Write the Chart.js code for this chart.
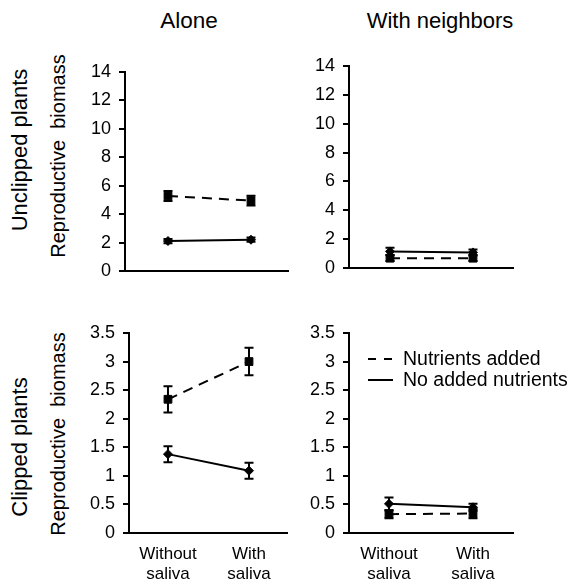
<!DOCTYPE html>
<html><head><meta charset="utf-8">
<script src="https://cdn.jsdelivr.net/npm/chart.js@4.4.1/dist/chart.umd.min.js"></script>
<style>
body{margin:0;background:#fff;width:573px;height:585px;position:relative;overflow:hidden;font-family:"Liberation Sans",Arial,sans-serif;}
.lbl{position:absolute;color:#000;white-space:pre;line-height:normal;}
canvas{position:absolute;}
</style></head><body>
<div class="lbl" style="font-size:22.5px;left:189px;top:21px;transform:translate(-50%,-50%)">Alone</div>
<div class="lbl" style="font-size:22px;left:440px;top:21px;transform:translate(-50%,-50%)">With neighbors</div>
<div class="lbl" style="font-size:22px;left:20px;top:150px;transform:translate(-50%,-50%) rotate(-90deg)">Unclipped plants</div>
<div class="lbl" style="font-size:22px;left:20px;top:447px;transform:translate(-50%,-50%) rotate(-90deg)">Clipped plants</div>
<div class="lbl" style="font-size:20px;left:58px;top:156px;transform:translate(-50%,-50%) rotate(-90deg)">Reproductive  biomass</div>
<div class="lbl" style="font-size:20px;left:58px;top:434px;transform:translate(-50%,-50%) rotate(-90deg)">Reproductive  biomass</div>

<canvas id="c1"></canvas>
<canvas id="c2"></canvas>
<canvas id="c3"></canvas>
<canvas id="c4"></canvas>
<script>
// ---- data ----
const categories = [["Without", "saliva"], ["With", "saliva"]];
const seriesNames = ["Nutrients added", "No added nutrients"];
const topTicks = [0, 2, 4, 6, 8, 10, 12, 14];
const bottomTicks = [0, 0.5, 1, 1.5, 2, 2.5, 3, 3.5];

const aloneUnclippedNutrients = [5.28, 4.95];
const aloneUnclippedNutrientsErr = [0.35, 0.35];
const aloneUnclippedNone = [2.11, 2.2];
const aloneUnclippedNoneErr = [0.15, 0.15];

const neighUnclippedNutrients = [0.68, 0.68];
const neighUnclippedNutrientsErr = [0.2, 0.2];
const neighUnclippedNone = [1.15, 1.08];
const neighUnclippedNoneErr = [0.25, 0.2];

const aloneClippedNutrients = [2.34, 3.0];
const aloneClippedNutrientsErr = [0.23, 0.24];
const aloneClippedNone = [1.38, 1.09];
const aloneClippedNoneErr = [0.14, 0.14];

const neighClippedNutrients = [0.33, 0.34];
const neighClippedNutrientsErr = [0.07, 0.08];
const neighClippedNone = [0.51, 0.45];
const neighClippedNoneErr = [0.11, 0.06];

// ---- plugins ----
const errorBars = {
  id: 'errorBars',
  afterDatasetsDraw(chart) {
    const ctx = chart.ctx, ys = chart.scales.y;
    chart.data.datasets.forEach((ds, di) => {
      const meta = chart.getDatasetMeta(di);
      meta.data.forEach((pt, i) => {
        const v = ds.data[i].y, e = ds.errors[i];
        const y1 = ys.getPixelForValue(v + e), y2 = ys.getPixelForValue(v - e);
        ctx.save();
        ctx.strokeStyle = '#000'; ctx.lineWidth = 2; ctx.setLineDash([]);
        ctx.beginPath();
        ctx.moveTo(pt.x, y1); ctx.lineTo(pt.x, y2);
        ctx.moveTo(pt.x - 4.5, y1); ctx.lineTo(pt.x + 4.5, y1);
        ctx.moveTo(pt.x - 4.5, y2); ctx.lineTo(pt.x + 4.5, y2);
        ctx.stroke();
        ctx.restore();
      });
    });
  }
};
const innerLegend = {
  id: 'innerLegend',
  afterDraw(chart, args, opts) {
    if (!opts.show) return;
    const ctx = chart.ctx, a = chart.chartArea;
    chart.data.datasets.forEach((ds, i) => {
      const y = a.top + 26 + i * 21;
      const x = a.left + 19;
      ctx.save();
      ctx.strokeStyle = '#000'; ctx.lineWidth = 2;
      ctx.setLineDash(ds.borderDash && ds.borderDash.length ? [8, 8] : []);
      ctx.beginPath(); ctx.moveTo(x, y); ctx.lineTo(x + 25, y); ctx.stroke();
      ctx.setLineDash([]);
      ctx.fillStyle = '#000';
      ctx.font = '19.5px "Liberation Sans", Arial, sans-serif';
      ctx.textBaseline = 'middle'; ctx.textAlign = 'left';
      ctx.fillText(ds.label, x + 35, y + 1);
      ctx.restore();
    });
  }
};

function makePanel(id, area, xmin, xmax, ymax, nutr, nutrErr, none, noneErr, showX, showLegend, padRight) {
  const yW = 60, padTop = 22, xH = showX ? 56 : 22;
  const cv = document.getElementById(id);
  const w = (area.r - area.l) + yW + padRight;
  const h = (area.b - area.t) + padTop + xH;
  cv.width = w; cv.height = h;
  cv.style.left = (area.l - yW) + 'px';
  cv.style.top = (area.t - padTop) + 'px';
  const fam = '"Liberation Sans", Arial, sans-serif';
  new Chart(cv, {
    type: 'line',
    data: {
      datasets: [
        {label: seriesNames[0], data: nutr.map((v, i) => ({x: i + 1, y: v})), errors: nutrErr,
         borderColor: '#000', borderWidth: 2, borderDash: [10, 7], pointStyle: 'rect', pointRadius: 5.5,
         pointBackgroundColor: '#000', pointBorderColor: '#000', pointBorderWidth: 1, fill: false, tension: 0},
        {label: seriesNames[1], data: none.map((v, i) => ({x: i + 1, y: v})), errors: noneErr,
         borderColor: '#000', borderWidth: 2, borderDash: [], pointStyle: 'rectRot', pointRadius: 4.5,
         pointBackgroundColor: '#000', pointBorderColor: '#000', pointBorderWidth: 1, fill: false, tension: 0}
      ]
    },
    options: {
      responsive: false, animation: false, devicePixelRatio: 1,
      layout: {padding: {left: 0, top: padTop, right: padRight, bottom: 0}},
      plugins: {legend: {display: false}, tooltip: {enabled: false}, innerLegend: {show: showLegend}},
      scales: {
        x: {
          type: 'linear', min: xmin, max: xmax,
          afterFit: s => { s.height = xH; },
          afterBuildTicks: s => { s.ticks = categories.map((c, i) => ({value: i + 1})); },
          grid: {display: false, drawTicks: false},
          border: {display: true, color: '#000', width: 2},
          ticks: {display: showX, color: '#000', font: {family: fam, size: 17, lineHeight: '20px'}, padding: 11,
                  maxRotation: 0, autoSkip: false, callback: v => categories[v - 1]}
        },
        y: {
          min: 0, max: ymax,
          afterFit: s => { s.width = yW; },
          afterBuildTicks: s => { s.ticks = (ymax > 5 ? topTicks : bottomTicks).map(v => ({value: v})); },
          grid: {display: true, drawOnChartArea: false, drawTicks: true, tickLength: 6, color: '#000', lineWidth: 2},
          border: {display: true, color: '#000', width: 2},
          ticks: {color: '#000', font: {family: fam, size: 18}, padding: 8, callback: v => String(v)}
        }
      }
    },
    plugins: [errorBars, innerLegend]
  });
}

makePanel('c1', {l: 125, r: 288, t: 72, b: 271}, 0.482, 2.446, 14,
  aloneUnclippedNutrients, aloneUnclippedNutrientsErr, aloneUnclippedNone, aloneUnclippedNoneErr, false, false, 10);
makePanel('c2', {l: 349, r: 513, t: 66, b: 268}, 0.506, 2.482, 14,
  neighUnclippedNutrients, neighUnclippedNutrientsErr, neighUnclippedNone, neighUnclippedNoneErr, false, false, 10);
makePanel('c3', {l: 129, r: 287, t: 333, b: 533}, 0.519, 2.469, 3.5,
  aloneClippedNutrients, aloneClippedNutrientsErr, aloneClippedNone, aloneClippedNoneErr, true, false, 10);
makePanel('c4', {l: 349, r: 513, t: 333, b: 533}, 0.524, 2.476, 3.5,
  neighClippedNutrients, neighClippedNutrientsErr, neighClippedNone, neighClippedNoneErr, true, true, 60);
</script>
</body></html>
